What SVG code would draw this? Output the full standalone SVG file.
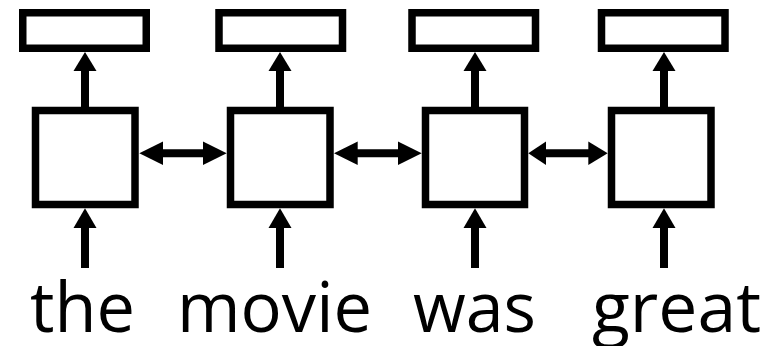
<svg xmlns="http://www.w3.org/2000/svg" width="776" height="346" viewBox="0 0 776 346">
  <style>
    .box { fill: #ffffff; stroke: #000000; stroke-width: 7.5; }
    .shaft { stroke: #000000; stroke-width: 8; fill: none; }
    .head { fill: #000000; }
    .word { font-family: "Open Sans", "Noto Sans", sans-serif; font-size: 70px; fill: #000000; }
  </style>
  <rect width="776" height="346" fill="#ffffff"/>

  <!-- output boxes -->
  <g id="out1"><rect class="box" x="22.75" y="12.75" width="123.5" height="35.5"/></g>
  <g id="out2"><rect class="box" x="219" y="12.75" width="123.5" height="35.5"/></g>
  <g id="out3"><rect class="box" x="412" y="12.75" width="123.5" height="35.5"/></g>
  <g id="out4"><rect class="box" x="601.5" y="12.75" width="123.5" height="35.5"/></g>

  <!-- recurrent cells -->
  <g id="cell1"><rect class="box" x="35.5" y="110.5" width="99.5" height="94"/></g>
  <g id="cell2"><rect class="box" x="230.5" y="110.5" width="99.5" height="94"/></g>
  <g id="cell3"><rect class="box" x="425.5" y="110.5" width="99" height="94"/></g>
  <g id="cell4"><rect class="box" x="611.5" y="110.5" width="99.5" height="94"/></g>

  <!-- input words -->
  <g id="w1"><text class="word" x="30" y="332" textLength="105" lengthAdjust="spacingAndGlyphs">the</text></g>
  <g id="w2"><text class="word" x="177" y="332" textLength="195" lengthAdjust="spacingAndGlyphs">movie</text></g>
  <g id="w3"><text class="word" x="413" y="332" textLength="123" lengthAdjust="spacingAndGlyphs">was</text></g>
  <g id="w4"><text class="word" x="592" y="332" textLength="169" lengthAdjust="spacingAndGlyphs">great</text></g>

  <g id="connectors">
    <!-- cell to output -->
    <line class="shaft" x1="85" y1="107" x2="85" y2="68"/>
    <polygon class="head" points="85,52 73.5,71 96.5,71"/>
    <line class="shaft" x1="280" y1="107" x2="280" y2="68"/>
    <polygon class="head" points="280,52 268.5,71 291.5,71"/>
    <line class="shaft" x1="475" y1="107" x2="475" y2="68"/>
    <polygon class="head" points="475,52 463.5,71 486.5,71"/>
    <line class="shaft" x1="664" y1="107" x2="664" y2="68"/>
    <polygon class="head" points="664,52 652.5,71 675.5,71"/>

    <!-- word to cell -->
    <line class="shaft" x1="85" y1="268" x2="85" y2="225"/>
    <polygon class="head" points="85,208.3 73.5,228 96.5,228"/>
    <line class="shaft" x1="280" y1="268" x2="280" y2="225"/>
    <polygon class="head" points="280,208.3 268.5,228 291.5,228"/>
    <line class="shaft" x1="475" y1="268" x2="475" y2="225"/>
    <polygon class="head" points="475,208.3 463.5,228 486.5,228"/>
    <line class="shaft" x1="664" y1="268" x2="664" y2="225"/>
    <polygon class="head" points="664,208.3 652.5,228 675.5,228"/>

    <!-- bidirectional links between cells -->
    <line class="shaft" x1="160" y1="153.3" x2="206" y2="153.3"/>
    <polygon class="head" points="139.3,153.3 163,141.6 163,165"/>
    <polygon class="head" points="226.7,153.3 203,141.6 203,165"/>
    <line class="shaft" x1="355" y1="153.3" x2="401" y2="153.3"/>
    <polygon class="head" points="334,153.3 357.7,141.6 357.7,165"/>
    <polygon class="head" points="421.7,153.3 398,141.6 398,165"/>
    <line class="shaft" x1="545" y1="153.3" x2="590" y2="153.3"/>
    <polygon class="head" points="528.3,153.3 546,141.6 546,165"/>
    <polygon class="head" points="607.7,153.3 588.3,141.6 588.3,165"/>
  </g>
</svg>
